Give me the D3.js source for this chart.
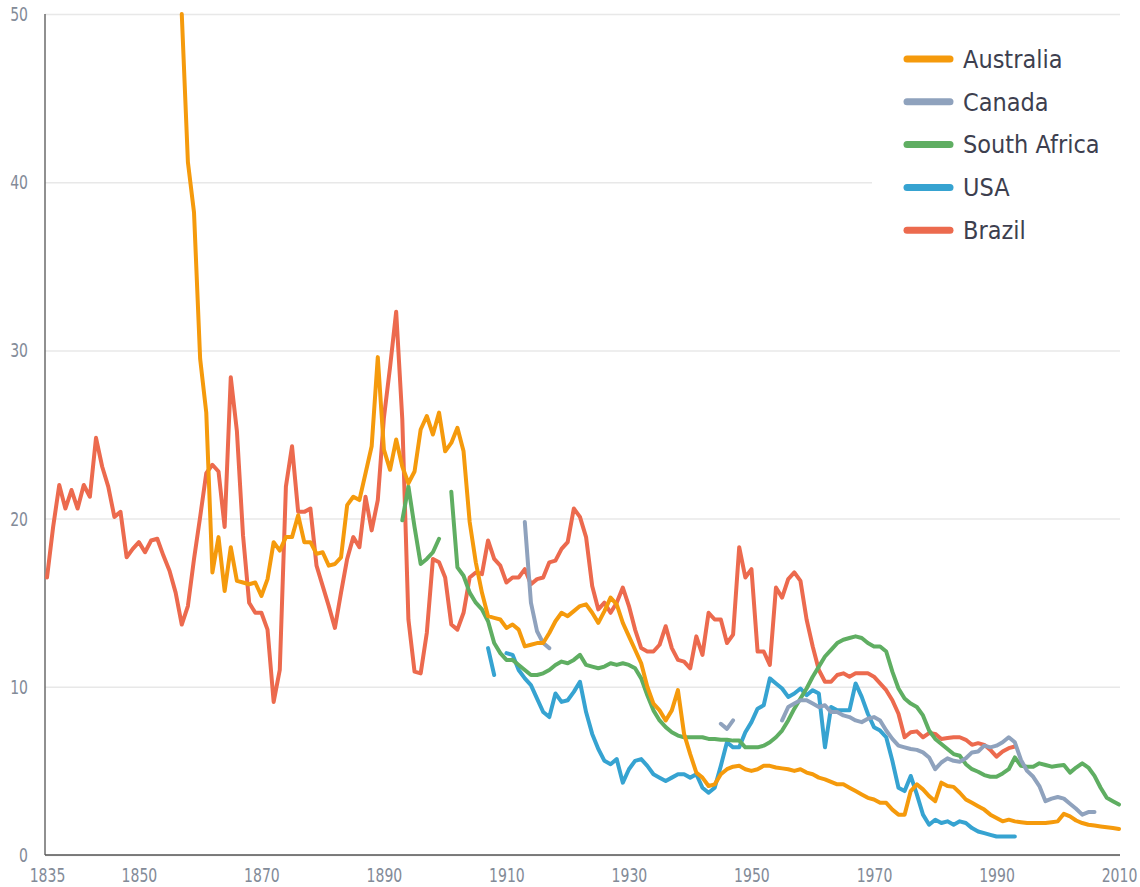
<!DOCTYPE html>
<html>
<head>
<meta charset="utf-8">
<script src="https://cdn.jsdelivr.net/npm/d3@7"></script>
<style>
  html, body { margin: 0; padding: 0; background: #fff; }
  svg { display: block; }
  .tick text { font-family: "Liberation Sans Narrow", "DejaVu Sans Condensed", sans-serif; }
</style>
</head>
<body>
<div id="chart"></div>
<script>
// tick labels
var xTicks = [1835, 1850, 1870, 1890, 1910, 1930, 1950, 1970, 1990, 2010];
var yTicks = [0, 10, 20, 30, 40, 50];

var countries = ["Australia", "Canada", "South Africa", "USA", "Brazil"];
var colors = ["#f59a0c", "#8fa2bd", "#5fae62", "#36a3d1", "#ec6a4e"];

// series, one value per year from the start year, null = no data
var brazilStart = 1835;
var brazil = [16.5, 19.5, 22.0, 20.6, 21.7, 20.6, 22.0, 21.3, 24.8, 23.1,
  21.9, 20.1, 20.4, 17.7, 18.2, 18.6, 18.0, 18.7, 18.8, 17.8,
  16.9, 15.6, 13.7, 14.8, 17.6, 20.1, 22.7, 23.2, 22.8, 19.5,
  28.4, 25.2, 19.0, 15.0, 14.4, 14.4, 13.4, 9.1, 11.0, 21.9,
  24.3, 20.4, 20.4, 20.6, 17.2, 16.0, 14.8, 13.5, 15.6, 17.6,
  18.9, 18.3, 21.3, 19.3, 21.1, 26.0, 29.0, 32.3, 25.9, 14.0,
  10.9, 10.8, 13.2, 17.6, 17.4, 16.5, 13.7, 13.4, 14.4, 16.5,
  16.8, 16.7, 18.7, 17.6, 17.2, 16.2, 16.5, 16.5, 17.0, 16.1,
  16.4, 16.5, 17.4, 17.5, 18.2, 18.6, 20.6, 20.1, 18.9, 16.0,
  14.6, 15.0, 14.4, 15.0, 15.9, 14.8, 13.4, 12.3, 12.1, 12.1,
  12.5, 13.6, 12.3, 11.6, 11.5, 11.1, 13.0, 11.9, 14.4, 14.0,
  14.0, 12.6, 13.1, 18.3, 16.5, 17.0, 12.1, 12.1, 11.3, 15.9,
  15.3, 16.4, 16.8, 16.3, 14.0, 12.4, 11.0, 10.3, 10.3, 10.7,
  10.8, 10.6, 10.8, 10.8, 10.8, 10.6, 10.2, 9.8, 9.2, 8.4,
  7.0, 7.3, 7.35, 7.0, 7.25, 7.2, 6.9, 6.95, 7.0, 7.0,
  6.85, 6.55, 6.65, 6.55, 6.25, 5.85, 6.15, 6.35, 6.45];

var australiaStart = 1857;
var australia = [50.0, 41.2, 38.2, 29.5, 26.3, 16.8, 18.9, 15.7, 18.3, 16.3,
  16.2, 16.1, 16.2, 15.4, 16.4, 18.6, 18.1, 18.9, 18.9, 20.2,
  18.6, 18.6, 17.9, 18.0, 17.2, 17.3, 17.7, 20.8, 21.3, 21.1,
  22.7, 24.3, 29.6, 24.1, 22.9, 24.7, 23.1, 22.1, 22.8, 25.3,
  26.1, 25.0, 26.3, 24.0, 24.5, 25.4, 24.0, 19.8, 17.4, 15.6,
  14.2, 14.1, 14.0, 13.5, 13.7, 13.4, 12.4, 12.5, 12.6, 12.6,
  13.2, 13.9, 14.4, 14.2, 14.5, 14.8, 14.9, 14.4, 13.8, 14.5,
  15.3, 14.9, 13.8, 13.0, 12.2, 11.4, 10.0, 9.0, 8.6, 8.0,
  8.6, 9.8, 7.2, 6.0, 4.9, 4.6, 4.1, 4.2, 4.8, 5.1,
  5.25, 5.3, 5.1, 5.0, 5.1, 5.3, 5.3, 5.2, 5.15, 5.1,
  5.0, 5.1, 4.9, 4.8, 4.6, 4.5, 4.35, 4.2, 4.2, 4.0,
  3.8, 3.6, 3.4, 3.3, 3.1, 3.1, 2.7, 2.4, 2.4, 3.8,
  4.2, 3.9, 3.5, 3.2, 4.3, 4.1, 4.05, 3.7, 3.3, 3.1,
  2.9, 2.7, 2.4, 2.2, 2.0, 2.1, 2.0, 1.95, 1.9, 1.9,
  1.9, 1.9, 1.95, 2.0, 2.45, 2.3, 2.05, 1.9, 1.8, 1.75,
  1.7, 1.65, 1.6, 1.55];

var southAfricaStart = 1893;
var southAfrica = [19.9, 21.9, 19.5, 17.3, 17.6, 18.0, 18.8, null, 21.6, 17.1,
  16.6, 15.6, 15.0, 14.6, 13.9, 12.6, 12.0, 11.6, 11.6, 11.3,
  11.0, 10.7, 10.7, 10.8, 11.0, 11.3, 11.5, 11.4, 11.6, 11.9,
  11.3, 11.2, 11.1, 11.2, 11.4, 11.3, 11.4, 11.3, 11.1, 10.5,
  9.5, 8.6, 8.0, 7.6, 7.3, 7.1, 7.0, 7.0, 7.0, 7.0,
  6.9, 6.9, 6.85, 6.85, 6.8, 6.8, 6.4, 6.4, 6.4, 6.5,
  6.7, 7.0, 7.4, 8.0, 8.7, 9.3, 9.9, 10.6, 11.2, 11.8,
  12.2, 12.6, 12.8, 12.9, 13.0, 12.9, 12.6, 12.4, 12.4, 12.1,
  10.9, 9.9, 9.3, 9.0, 8.8, 8.3, 7.4, 6.9, 6.6, 6.3,
  6.0, 5.9, 5.4, 5.1, 4.95, 4.75, 4.65, 4.65, 4.85, 5.1,
  5.8, 5.3, 5.25, 5.25, 5.45, 5.35, 5.25, 5.3, 5.35, 4.9,
  5.2, 5.45, 5.2, 4.7, 4.0, 3.4, 3.2, 3.0];

var usaStart = 1907;
var usa = [12.3, 10.7, null, 12.0, 11.9, 11.0, 10.5, 10.1, 9.3, 8.5,
  8.2, 9.6, 9.1, 9.2, 9.7, 10.3, 8.5, 7.2, 6.3, 5.6,
  5.4, 5.7, 4.3, 5.1, 5.6, 5.7, 5.3, 4.8, 4.6, 4.4,
  4.6, 4.8, 4.8, 4.6, 4.8, 4.0, 3.7, 4.0, 5.3, 6.7,
  6.4, 6.4, 7.3, 7.9, 8.7, 8.9, 10.5, 10.2, 9.9, 9.4,
  9.6, 9.9, 9.5, 9.8, 9.6, 6.4, 8.8, 8.6, 8.6, 8.6,
  10.2, 9.4, 8.4, 7.6, 7.4, 7.0, 5.6, 4.0, 3.8, 4.7,
  3.6, 2.4, 1.8, 2.1, 1.9, 2.0, 1.8, 2.0, 1.9, 1.6,
  1.4, 1.3, 1.2, 1.1, 1.1, 1.1, 1.1];

var canadaStart = 1913;
var canada = [19.8, 15.0, 13.3, 12.6, 12.3, null, null, null, null, null,
  null, null, null, null, null, null, null, null, null, null,
  null, null, null, null, null, null, null, null, null, null,
  null, null, 7.8, 7.5, 8.0, null, null, null, null, null,
  null, null, 8.0, 8.8, 9.0, 9.2, 9.2, 9.0, 8.8, 8.9,
  8.5, 8.5, 8.3, 8.2, 8.0, 7.9, 8.1, 8.2, 8.0, 7.4,
  6.9, 6.5, 6.4, 6.3, 6.25, 6.1, 5.8, 5.1, 5.5, 5.75,
  5.6, 5.55, 5.75, 6.1, 6.15, 6.5, 6.4, 6.5, 6.7, 7.0,
  6.7, 5.65, 5.0, 4.65, 4.1, 3.2, 3.35, 3.45, 3.35, 3.05,
  2.75, 2.4, 2.55, 2.55];

var width = 1140, height = 887;
var plotLeft = 45, plotRight = 1120, plotTop = 14, plotBottom = 855;
var squeeze = 0.78; // tick labels use a tall narrow face

var svg = d3.select("#chart").append("svg")
  .attr("width", width).attr("height", height);

var x = d3.scaleLinear().domain([1835, 2010]).range([47, 1119]);
var y = d3.scaleLinear().domain([0, 50]).range([plotBottom, plotTop]);

function toPoints(start, values) {
  return values.map(function(v, i) { return {year: start + i, value: v}; });
}

var series = [
  {name: "Brazil", color: colors[4], data: toPoints(brazilStart, brazil)},
  {name: "USA", color: colors[3], data: toPoints(usaStart, usa)},
  {name: "South Africa", color: colors[2], data: toPoints(southAfricaStart, southAfrica)},
  {name: "Canada", color: colors[1], data: toPoints(canadaStart, canada)},
  {name: "Australia", color: colors[0], data: toPoints(australiaStart, australia)}
];

// gridlines + y labels
var yAxis = svg.append("g")
  .attr("transform", "translate(" + plotLeft + ",0)")
  .call(d3.axisLeft(y).tickValues(yTicks).tickSize(-(plotRight - plotLeft)));
yAxis.select(".domain").remove();
yAxis.selectAll(".tick line").attr("stroke", "#e8e8e8").attr("stroke-width", 1.5);
yAxis.selectAll(".tick text")
  .attr("x", -17 / squeeze)
  .attr("transform", "scale(" + squeeze + ",1)")
  .attr("fill", "#838b98").attr("font-size", 20);

// legend background hides the gridlines behind it
svg.append("rect").attr("x", 872).attr("y", 28).attr("width", 260).attr("height", 225).attr("fill", "#fff");

// x labels
var xAxis = svg.append("g")
  .attr("transform", "translate(0," + plotBottom + ")")
  .call(d3.axisBottom(x).tickValues(xTicks).tickFormat(d3.format("d")).tickSize(0).tickPadding(13));
xAxis.select(".domain").remove();
xAxis.selectAll(".tick text")
  .attr("transform", "scale(" + squeeze + ",1)")
  .attr("fill", "#838b98").attr("font-size", 20);

// axis lines
svg.append("line").attr("x1", plotLeft).attr("x2", plotLeft).attr("y1", plotTop).attr("y2", plotBottom)
  .attr("stroke", "#6b6b6b").attr("stroke-width", 1.5);
svg.append("line").attr("x1", plotLeft).attr("x2", plotRight).attr("y1", plotBottom).attr("y2", plotBottom)
  .attr("stroke", "#555").attr("stroke-width", 1.5);

var line = d3.line()
  .defined(function(d) { return d.value !== null; })
  .x(function(d) { return x(d.year); })
  .y(function(d) { return y(d.value); });

svg.selectAll(".series").data(series).enter().append("path")
  .attr("class", "series")
  .attr("d", function(d) { return line(d.data); })
  .attr("fill", "none")
  .attr("stroke", function(d) { return d.color; })
  .attr("stroke-width", 4)
  .attr("stroke-linejoin", "round")
  .attr("stroke-linecap", "round");

// legend
var legend = svg.append("g").attr("transform", "translate(907,59)");
var item = legend.selectAll(".item").data(countries).enter().append("g")
  .attr("transform", function(d, i) { return "translate(0," + (i * 42.8) + ")"; });
item.append("line").attr("x1", 0).attr("x2", 43).attr("y1", 0).attr("y2", 0)
  .attr("stroke", function(d, i) { return colors[i]; })
  .attr("stroke-width", 7).attr("stroke-linecap", "round");
item.append("text").attr("x", 56).attr("y", 0).attr("dy", "0.35em")
  .attr("font-family", "'Liberation Sans Narrow', 'DejaVu Sans Condensed', sans-serif")
  .attr("font-size", 25).attr("fill", "#3d3f4f")
  .text(function(d) { return d; });
</script>
</body>
</html>
